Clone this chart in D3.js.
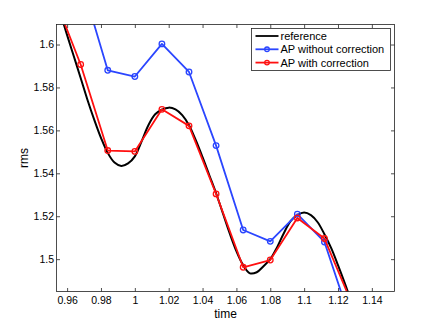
<!DOCTYPE html>
<html>
<head>
<meta charset="utf-8">
<script src="https://cdnjs.cloudflare.com/ajax/libs/d3/7.8.5/d3.min.js"></script>
<style>
  body { margin: 0; background: #fff; }
  svg text { font-family: "Liberation Sans", Arial, sans-serif; fill: #000; }
</style>
</head>
<body>
<div id="chart"></div>
<script>
// reference curve, sampled every 0.004 in time
var refTime = [0.952, 0.956, 0.960, 0.964, 0.968, 0.972, 0.976, 0.980, 0.984, 0.988,
               0.992, 0.996, 1.000, 1.004, 1.008, 1.012, 1.016, 1.020, 1.024, 1.028,
               1.032, 1.036, 1.040, 1.044, 1.048, 1.052, 1.056, 1.060, 1.064, 1.068,
               1.072, 1.076, 1.080, 1.084, 1.088, 1.092, 1.096, 1.100, 1.104, 1.108,
               1.112, 1.116, 1.120, 1.124, 1.128, 1.132];
var refRms = [1.6245, 1.6145, 1.6044, 1.5944, 1.5844, 1.5743, 1.5650, 1.5565, 1.5495, 1.5450,
              1.5434, 1.5446, 1.5479, 1.5549, 1.5624, 1.5675, 1.5696, 1.5706, 1.5698, 1.5671,
              1.5624, 1.5554, 1.5475, 1.5391, 1.5307, 1.5214, 1.5121, 1.5037, 1.4972, 1.4934,
              1.4939, 1.4967, 1.5000, 1.5055, 1.5121, 1.5177, 1.5205, 1.5217, 1.5205, 1.5172,
              1.5116, 1.5051, 1.4972, 1.4888, 1.4799, 1.4710];

// AP estimates, one every 0.016
var apTime = [0.952, 0.968, 0.984, 1.000, 1.016, 1.032, 1.048, 1.064, 1.080, 1.096, 1.112, 1.128];
var apNoCorr = [1.672, 1.6305, 1.5880, 1.5851, 1.6003, 1.5872, 1.5529, 1.5136, 1.5083, 1.5210, 1.5080, 1.4701];
var apCorr = [1.623, 1.5907, 1.5506, 1.5502, 1.5698, 1.5621, 1.5304, 1.4962, 1.4996, 1.5192, 1.5096, 1.4797];

var xTicks = [0.96, 0.98, 1.00, 1.02, 1.04, 1.06, 1.08, 1.10, 1.12, 1.14];
var yTicks = [1.50, 1.52, 1.54, 1.56, 1.58, 1.60];

var legendNames = ["reference", "AP without correction", "AP with correction"];
var colors = ["#000000", "#2b46ff", "#ff1010"];

var W = 436, H = 328;
var margin = {top: 24.5, left: 56.5, right: 41.5, bottom: 36.5};
var width = W - margin.left - margin.right;
var height = H - margin.top - margin.bottom;

var svg = d3.select("#chart").append("svg")
    .attr("width", W)
    .attr("height", H);

var x = d3.scaleLinear().domain([0.95373, 1.15338]).range([0, width]);
var y = d3.scaleLinear().domain([1.48493, 1.60933]).range([height, 0]);

svg.append("defs").append("clipPath")
    .attr("id", "clip")
    .append("rect")
    .attr("width", width)
    .attr("height", height);

var plot = svg.append("g")
    .attr("transform", "translate(" + margin.left + "," + margin.top + ")");

plot.append("rect")
    .attr("width", width)
    .attr("height", height)
    .style("fill", "#fff");

// axes, ticks point inward like matlab
var tickLen = 3.5;
function styleAxis(g) {
    g.select(".domain").remove();
    g.selectAll(".tick line").attr("stroke", "#222").attr("stroke-width", 0.8);
    g.selectAll(".tick text").style("font-size", "10.5px");
}

function fmt(d) { return d3.format("~g")(+d.toFixed(2)); }

plot.append("g")
    .attr("transform", "translate(0," + height + ")")
    .call(d3.axisBottom(x).tickValues(xTicks).tickSize(-tickLen).tickPadding(5.5).tickFormat(fmt))
    .call(styleAxis);

plot.append("g")
    .call(d3.axisTop(x).tickValues(xTicks).tickSize(-tickLen).tickFormat(""))
    .call(styleAxis);

plot.append("g")
    .call(d3.axisLeft(y).tickValues(yTicks).tickSize(-tickLen).tickPadding(2.5).tickFormat(fmt))
    .call(styleAxis);

plot.append("g")
    .attr("transform", "translate(" + width + ",0)")
    .call(d3.axisRight(y).tickValues(yTicks).tickSize(-tickLen).tickFormat(""))
    .call(styleAxis);

// curves
var pad = plot.append("g").attr("clip-path", "url(#clip)");

var refData = refTime.map(function(t, i) { return [t, refRms[i]]; });
var noCorrData = apTime.map(function(t, i) { return [t, apNoCorr[i]]; });
var corrData = apTime.map(function(t, i) { return [t, apCorr[i]]; });

var smooth = d3.line()
    .x(function(d) { return x(d[0]); })
    .y(function(d) { return y(d[1]); })
    .curve(d3.curveCatmullRom);

var straight = d3.line()
    .x(function(d) { return x(d[0]); })
    .y(function(d) { return y(d[1]); });

pad.append("path")
    .datum(refData)
    .attr("d", smooth)
    .style("fill", "none")
    .style("stroke", colors[0])
    .style("stroke-width", 2);

[noCorrData, corrData].forEach(function(data, k) {
    var c = colors[k + 1];
    pad.append("path")
        .datum(data)
        .attr("d", straight)
        .style("fill", "none")
        .style("stroke", c)
        .style("stroke-width", 1.8)
        .style("stroke-linejoin", "round");
    pad.selectAll(".pt" + k)
        .data(data)
        .enter().append("circle")
        .attr("class", "pt" + k)
        .attr("cx", function(d) { return x(d[0]); })
        .attr("cy", function(d) { return y(d[1]); })
        .attr("r", 2.8)
        .style("fill", "none")
        .style("stroke", c)
        .style("stroke-width", 1.3);
});

// box
plot.append("rect")
    .attr("width", width)
    .attr("height", height)
    .style("fill", "none")
    .style("stroke", "#222")
    .style("stroke-width", 0.8);

// legend
var leg = svg.append("g").attr("transform", "translate(251.5,28.5)");
leg.append("rect")
    .attr("width", 139)
    .attr("height", 42)
    .style("fill", "#fff")
    .style("stroke", "#222")
    .style("stroke-width", 0.8);

legendNames.forEach(function(name, i) {
    var cy = 7.5 + i * 13.3;
    leg.append("line")
        .attr("x1", 4).attr("x2", 27)
        .attr("y1", cy).attr("y2", cy)
        .style("stroke", colors[i])
        .style("stroke-width", 1.8);
    if (i > 0) {
        leg.append("circle")
            .attr("cx", 15.5).attr("cy", cy).attr("r", 2.3)
            .style("fill", "none")
            .style("stroke", colors[i])
            .style("stroke-width", 1.3);
    }
    leg.append("text")
        .attr("x", 29)
        .attr("y", cy + 4)
        .style("font-size", "11px")
        .text(name);
});

// axis titles
svg.append("text")
    .attr("x", margin.left + width / 2)
    .attr("y", 318)
    .attr("text-anchor", "middle")
    .style("font-size", "12px")
    .text("time");

svg.append("text")
    .attr("transform", "translate(28," + (margin.top + height / 2) + ") rotate(-90)")
    .attr("text-anchor", "middle")
    .style("font-size", "12px")
    .text("rms");
</script>
</body>
</html>
